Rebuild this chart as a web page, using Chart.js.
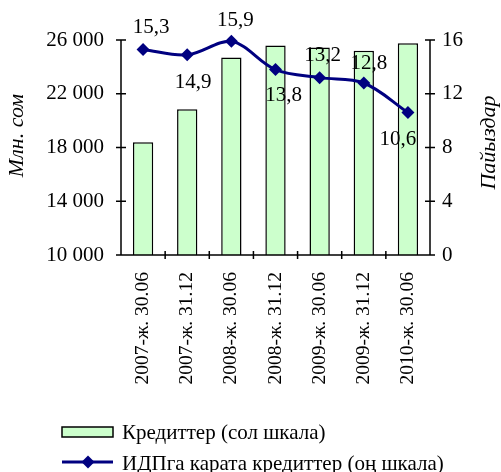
<!DOCTYPE html>
<html>
<head>
<meta charset="utf-8">
<script src="https://cdn.jsdelivr.net/npm/chart.js@4"></script>
<style>
  html, body { margin: 0; padding: 0; background: #fff; }
</style>
</head>
<body>
<canvas id="chartKredit" width="501" height="472"></canvas>
<script>
var categories = ['2007-ж. 30.06', '2007-ж. 31.12', '2008-ж. 30.06', '2008-ж. 31.12',
                  '2009-ж. 30.06', '2009-ж. 31.12', '2010-ж. 30.06'];
var credits = [18400, 20850, 24700, 25600, 25450, 25200, 25750];   // млн. сом
var creditsToGdp = [15.3, 14.9, 15.9, 13.8, 13.2, 12.8, 10.6];    // пайыз
var leftTicks = [10000, 14000, 18000, 22000, 26000];
var rightTicks = [0, 4, 8, 12, 16];

var serif = "'Liberation Serif', 'Times New Roman', serif";
var navy = '#000080';
var green = '#ccffcc';

// where each value label sits relative to its point (dx, dy)
var labelOffsets = [[8, -22], [6, 28], [4, -21], [8, 26], [3, -22], [5, -20], [-10, 27]];

function spaced(v) {
    return String(v).replace(/\B(?=(\d{3})+(?!\d))/g, ' ');
}

// axis lines, crossing tick marks, value labels, titles and legend
var decorations = {
    id: 'decorations',
    afterDatasetsDraw: function (chart) {
        var c = chart.ctx;
        var a = chart.chartArea;
        var x = chart.scales.x, yl = chart.scales.y, yr = chart.scales.y1;

        c.save();
        c.strokeStyle = '#000';
        c.lineWidth = 1.5;
        c.beginPath();
        c.moveTo(a.left, a.top); c.lineTo(a.left, a.bottom);
        c.moveTo(a.right, a.top); c.lineTo(a.right, a.bottom);
        c.moveTo(a.left - 5, a.bottom); c.lineTo(a.right + 5, a.bottom);
        leftTicks.forEach(function (v) {
            var py = yl.getPixelForValue(v);
            c.moveTo(a.left - 5, py); c.lineTo(a.left + 5, py);
        });
        rightTicks.forEach(function (v) {
            var py = yr.getPixelForValue(v);
            c.moveTo(a.right - 5, py); c.lineTo(a.right + 5, py);
        });
        for (var i = 1; i < categories.length; i++) {
            var px = (x.getPixelForValue(i - 1) + x.getPixelForValue(i)) / 2;
            c.moveTo(px, a.bottom - 4); c.lineTo(px, a.bottom + 4);
        }
        c.stroke();

        // value labels on the line
        var meta = chart.getDatasetMeta(1);
        c.fillStyle = '#000';
        c.font = '21px ' + serif;
        c.textAlign = 'center';
        c.textBaseline = 'middle';
        meta.data.forEach(function (pt, i) {
            var txt = String(creditsToGdp[i]).replace('.', ',');
            c.fillText(txt, pt.x + labelOffsets[i][0], pt.y + labelOffsets[i][1]);
        });

        // axis titles
        c.font = 'italic 22px ' + serif;
        var mid = (a.top + a.bottom) / 2;
        c.save();
        c.translate(17, mid - 12);
        c.rotate(-Math.PI / 2);
        c.fillText('Млн. сом', 0, 0);
        c.restore();
        c.save();
        c.translate(489, mid - 5);
        c.rotate(-Math.PI / 2);
        c.fillText('Пайыздар', 0, 0);
        c.restore();

        // legend
        var ds = chart.data.datasets;
        c.font = '21px ' + serif;
        c.textAlign = 'left';
        c.fillStyle = green;
        c.fillRect(62, 427, 51, 10);
        c.strokeStyle = '#000';
        c.lineWidth = 1.5;
        c.strokeRect(62, 427, 51, 10);
        c.fillStyle = '#000';
        c.fillText(ds[0].label, 122, 433);

        c.strokeStyle = navy;
        c.lineWidth = 3;
        c.beginPath();
        c.moveTo(62, 462); c.lineTo(113, 462);
        c.stroke();
        c.fillStyle = navy;
        c.beginPath();
        c.moveTo(88, 455.5); c.lineTo(94.5, 462); c.lineTo(88, 468.5); c.lineTo(81.5, 462);
        c.closePath();
        c.fill();
        c.fillStyle = '#000';
        c.fillText(ds[1].label, 122, 464);
        c.restore();
    }
};

var ctx = document.getElementById('chartKredit').getContext('2d');

let kreditChart = new Chart(ctx, {
    type: 'bar',
    data: {
        labels: categories,
        datasets: [{
            type: 'bar',
            label: 'Кредиттер (сол шкала)',
            data: credits,
            yAxisID: 'y',
            backgroundColor: green,
            borderColor: '#000',
            borderWidth: 1.5,
            borderSkipped: 'bottom',
            barPercentage: 0.46,
            categoryPercentage: 1,
            order: 2
        }, {
            type: 'line',
            label: 'ИДПга карата кредиттер (оң шкала)',
            data: creditsToGdp,
            yAxisID: 'y1',
            borderColor: navy,
            backgroundColor: navy,
            borderWidth: 3,
            tension: 0.35,
            pointStyle: 'rectRot',
            pointRadius: 6.5,
            pointBorderWidth: 0,
            clip: false,
            order: 1
        }]
    },
    options: {
        responsive: false,
        animation: false,
        layout: { padding: { top: 40, left: 0, right: 0, bottom: 0 } },
        plugins: {
            legend: { display: false },
            tooltip: { enabled: false }
        },
        scales: {
            x: {
                offset: true,
                grid: { display: false, drawTicks: false },
                border: { display: false },
                ticks: {
                    autoSkip: false,
                    minRotation: 90,
                    maxRotation: 90,
                    padding: 17,
                    color: '#000',
                    font: { family: serif, size: 19.5 }
                },
                afterFit: function (s) { s.height = 217; }
            },
            y: {
                position: 'left',
                min: 10000,
                max: 26000,
                grid: { display: false, drawTicks: false },
                border: { display: false },
                afterBuildTicks: function (s) {
                    s.ticks = leftTicks.map(function (v) { return { value: v }; });
                },
                ticks: {
                    padding: 17,
                    color: '#000',
                    font: { family: serif, size: 21 },
                    callback: function (v) { return spaced(v); }
                },
                afterFit: function (s) { s.width = 121; }
            },
            y1: {
                position: 'right',
                min: 0,
                max: 16,
                grid: { display: false, drawTicks: false },
                border: { display: false },
                afterBuildTicks: function (s) {
                    s.ticks = rightTicks.map(function (v) { return { value: v }; });
                },
                ticks: {
                    padding: 12,
                    color: '#000',
                    font: { family: serif, size: 21 }
                },
                afterFit: function (s) { s.width = 71; }
            }
        }
    },
    plugins: [decorations]
});
</script>
</body>
</html>
